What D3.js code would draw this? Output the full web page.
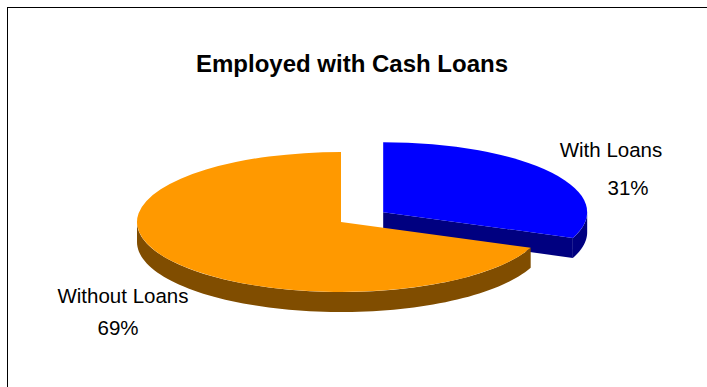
<!DOCTYPE html>
<html>
<head>
<meta charset="utf-8">
<script src="https://cdn.jsdelivr.net/npm/d3@7/dist/d3.min.js"></script>
<style>
  html, body { margin: 0; padding: 0; background: #fff; }
  svg { display: block; }
  text { font-family: "Liberation Sans", Arial, sans-serif; fill: #000; }
</style>
</head>
<body>
<svg id="chart" width="707" height="387"></svg>
<script>
// Share of employed people with and without cash loans
const categories = ["With Loans", "Without Loans"];
const values = [31, 69];
const title = "Employed with Cash Loans";

// Face colours for each slice: top and shaded walls
const topColors = ["#0000FF", "#FF9900"];
const sideColors = ["#000080", "#804D00"];
const explodeBy = [0.25, 0];

const W = 707, H = 387;
const svg = d3.select("#chart");

// Chart frame
svg.append("rect")
  .attr("x", 7.5).attr("y", 7.5)
  .attr("width", W + 20).attr("height", H + 20)
  .attr("fill", "#fff").attr("stroke", "#000").attr("stroke-width", 1);

svg.append("text")
  .attr("x", 352).attr("y", 72)
  .attr("text-anchor", "middle")
  .style("font-size", "24px").style("font-weight", "bold")
  .text(title);

// Tilted pie geometry
const cx = 341, cy = 222, rx = 204, ry = 70, depth = 20;

const total = d3.sum(values);
const pct = d3.format(".0%");
const arcs = d3.pie().sort(null).startAngle(0).endAngle(2 * Math.PI)(values);

const g = svg.append("g");
const line = d3.line().curve(d3.curveLinearClosed);

function pt(a, ox, oy, z) {
  return [cx + ox + rx * Math.sin(a), cy + oy - ry * Math.cos(a) + z];
}

arcs.forEach((d, i) => {
  const mid = (d.startAngle + d.endAngle) / 2;
  const k = explodeBy[i];
  const ox = k * rx * Math.sin(mid);
  const oy = -k * ry * Math.cos(mid);
  const c0 = [cx + ox, cy + oy];
  const slice = g.append("g").attr("class", "slice");

  // Flat cut faces that turn towards the viewer
  const faces = [];
  if (Math.sin(d.endAngle) > 1e-6) faces.push(d.endAngle);
  if (Math.sin(d.startAngle) < -1e-6) faces.push(d.startAngle);
  faces.forEach(a => {
    slice.append("path")
      .attr("d", line([c0, pt(a, ox, oy, 0), pt(a, ox, oy, depth), [c0[0], c0[1] + depth]]))
      .attr("fill", sideColors[i]);
  });

  // Curved outer wall on the front half of the ellipse
  const lo = Math.max(d.startAngle, Math.PI / 2);
  const hi = Math.min(d.endAngle, 3 * Math.PI / 2);
  if (hi > lo) {
    const n = 80;
    const ts = d3.range(n + 1).map(j => lo + (hi - lo) * j / n);
    const pts = ts.map(a => pt(a, ox, oy, 0))
      .concat(ts.slice().reverse().map(a => pt(a, ox, oy, depth)));
    slice.append("path").attr("d", line(pts)).attr("fill", sideColors[i]);
  }

  // Top face: a circular d3.arc squashed into the ellipse
  const topArc = d3.arc().innerRadius(0).outerRadius(rx);
  slice.append("path")
    .attr("transform", `translate(${c0[0]},${c0[1]}) scale(1,${ry / rx})`)
    .attr("d", topArc({ startAngle: d.startAngle, endAngle: d.endAngle }))
    .attr("fill", topColors[i]);
});

// Data labels: category name over percentage
const labelPos = [
  { name: [611, 157], value: [628, 195] },
  { name: [123, 303], value: [118, 335] }
];
categories.forEach((c, i) => {
  svg.append("text")
    .attr("x", labelPos[i].name[0]).attr("y", labelPos[i].name[1])
    .attr("text-anchor", "middle").style("font-size", "20.5px")
    .text(c);
  svg.append("text")
    .attr("x", labelPos[i].value[0]).attr("y", labelPos[i].value[1])
    .attr("text-anchor", "middle").style("font-size", "20.5px")
    .text(pct(values[i] / total));
});
</script>
</body>
</html>
